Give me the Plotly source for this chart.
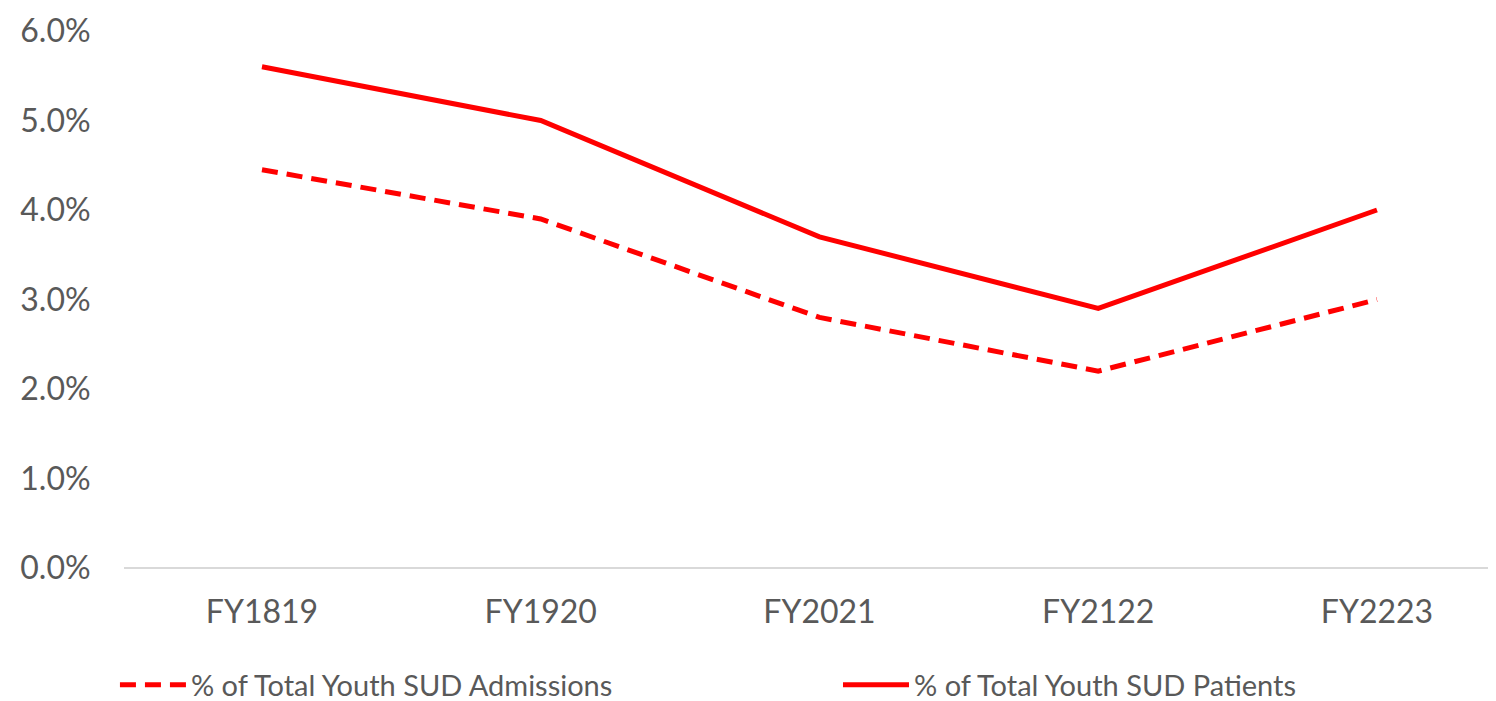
import plotly.graph_objects as go

categories = ["FY1819", "FY1920", "FY2021", "FY2122", "FY2223"]
admissions = [4.45, 3.9, 2.8, 2.2, 3.0]
patients = [5.6, 5.0, 3.7, 2.9, 4.0]
y_ticks = [0, 1, 2, 3, 4, 5, 6]
y_tick_labels = ["0.0%", "1.0%", "2.0%", "3.0%", "4.0%", "5.0%", "6.0%"]

FONT = "Lato"
GRAY = "#595959"

fig = go.Figure()
fig.add_trace(go.Scatter(
    x=categories, y=admissions, mode="lines",
    name="% of Total Youth SUD Admissions",
    line=dict(color="#FF0000", width=5, dash="16px,9px"),
    legend="legend",
))
fig.add_trace(go.Scatter(
    x=categories, y=patients, mode="lines",
    name="% of Total Youth SUD Patients",
    line=dict(color="#FF0000", width=5),
    legend="legend2",
))

legend_common = dict(
    orientation="h", xref="paper", xanchor="left",
    y=0.0231, yref="container", yanchor="middle",
    font=dict(size=29, color=GRAY), itemwidth=66,
    bgcolor="rgba(0,0,0,0)",
)

fig.update_layout(
    width=1488, height=693,
    margin=dict(l=116, r=0, t=23, b=133, autoexpand=False),
    paper_bgcolor="white", plot_bgcolor="white",
    font=dict(family=FONT, color=GRAY),
    xaxis=dict(
        type="category", range=[-0.495, 4.427],
        showgrid=False, showline=False, zeroline=False,
        tickfont=dict(size=32, color=GRAY),
        ticks="outside", ticklen=16, tickcolor="rgba(0,0,0,0)",
    ),
    yaxis=dict(
        range=[0, 6], tickvals=y_ticks, ticktext=y_tick_labels,
        showgrid=False, zeroline=True, zerolinecolor="#D9D9D9", zerolinewidth=2,
        showline=False,
        tickfont=dict(size=32, color=GRAY),
        ticks="outside", ticklen=26, tickcolor="rgba(0,0,0,0)",
    ),
    legend=dict(x=-0.0066, **legend_common),
    legend2=dict(x=0.5204, **legend_common),
    showlegend=True,
)

fig.write_html("out.html")
